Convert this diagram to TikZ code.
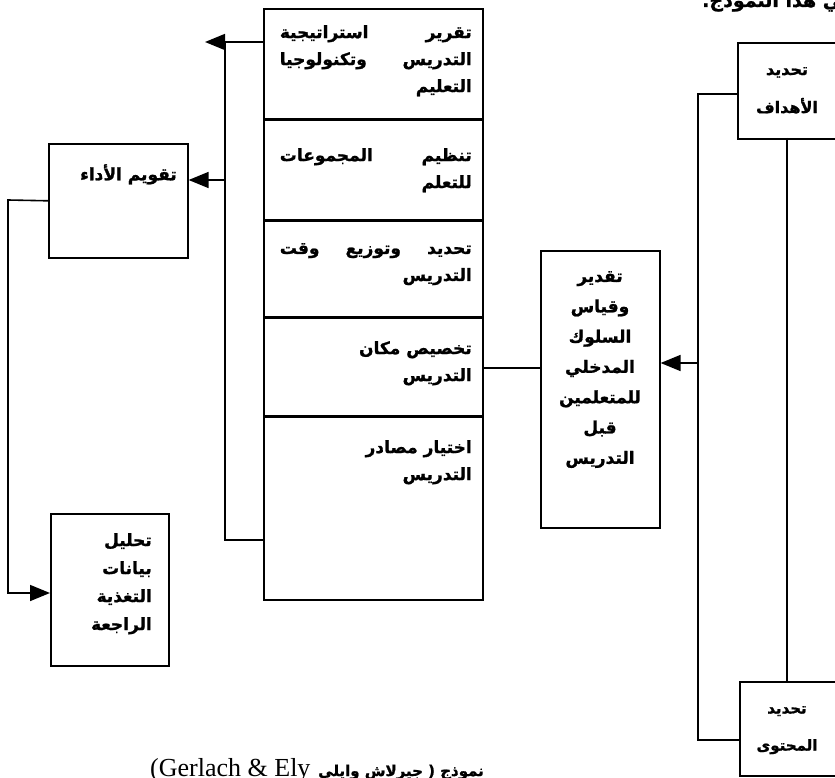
\documentclass[tikz,border=0pt]{standalone}
\usepackage{fontspec}
\setmainfont{Liberation Serif}
\newfontfamily\arabicfont[Script=Arabic, BoldFeatures={FakeBold=1.2}]{DejaVu Sans}
\TeXXeTstate=1
\usetikzlibrary{arrows.meta}

\begin{document}
\begin{tikzpicture}[x=1pt, y=-1pt,
  box/.style={draw, line width=1.6pt, inner sep=0pt, anchor=north west},
  txt/.style={font=\arabicfont\bfseries\fontsize{17}{27}\selectfont, inner sep=0pt, align=right, anchor=north east},
  link/.style={line width=1.6pt},
  arr/.style={line width=1.6pt, -{Triangle[length=20pt, width=16pt]}}]
  % one right-to-left line, and one spread over the row
  \newcommand\arline[1]{\beginR #1\endR}
  \newcommand\arspread[1]{\hbox to 192pt{\beginR #1\endR}}

  \useasboundingbox (0,0) rectangle (835,778);
  \clip (0,0) rectangle (835,778);

  % the column of steps
  \node[box, minimum width=219, minimum height=110] (r1) at (263,8) {};
  \node[box, minimum width=219, minimum height=99] (r2) at (r1.south west) {};
  \node[box, minimum width=219, minimum height=96] (r3) at (r2.south west) {};
  \node[box, minimum width=219, minimum height=97] (r4) at (r3.south west) {};
  \node[box, minimum width=219, minimum height=183] (r5) at (r4.south west) {};

  \node[txt] (r1t) at (472,25) {\arspread{تقرير\hfill استراتيجية}\\\arspread{التدريس\hfill وتكنولوجيا}\\\arline{التعليم}};
  \node[txt] (r2t) at (472,148) {\arspread{تنظيم\hfill المجموعات}\\\arline{للتعلم}};
  \node[txt] (r3t) at (472,243) {\arspread{تحديد\hfill وتوزيع\hfill وقت}\\\arline{التدريس}};
  \node[txt] (r4t) at (472,341) {\arline{تخصيص مكان}\\\arline{التدريس}};
  \node[txt] (r5t) at (472,440) {\arline{اختيار مصادر}\\\arline{التدريس}};

  % left side
  \node[box, minimum width=139, minimum height=114] (eval) at (48,143) {};
  \node[txt] (evalt) at (177,164) {\arline{تقويم الأداء}};
  \node[box, minimum width=118, minimum height=152] (fb) at (50,513) {};
  \node[txt, font=\arabicfont\bfseries\fontsize{17}{28}\selectfont] (fbt) at (152,533) {\arline{تحليل}\\\arline{بيانات}\\\arline{التغذية}\\\arline{الراجعة}};

  % middle box
  \node[box, minimum width=119, minimum height=277] (meas) at (540,250) {};
  \node[txt, align=center, anchor=north, font=\arabicfont\bfseries\fontsize{17}{30.3}\selectfont] (meast) at (600,271)
    {\arline{تقدير}\\\arline{وقياس}\\\arline{السلوك}\\\arline{المدخلي}\\\arline{للمتعلمين}\\\arline{قبل}\\\arline{التدريس}};

  % right side
  \node[box, minimum width=140, minimum height=96] (goal) at (737,42) {};
  \node[txt, align=center, anchor=north, font=\arabicfont\bfseries\fontsize{16}{38}\selectfont] (goalt) at (787,67) {\arline{تحديد}\\\arline{الأهداف}};
  \node[box, minimum width=140, minimum height=94] (cont) at (739,681) {};
  \node[txt, align=center, anchor=north, font=\arabicfont\bfseries\fontsize{15}{37}\selectfont] (contt) at (787,706) {\arline{تحديد}\\\arline{المحتوى}};

  % connectors
  \coordinate (busTop) at (225,42);
  \coordinate (busMid) at (225,180);
  \coordinate (busBot) at (225,540);
  \coordinate (outTop) at (205,42);
  \draw[link] (r1.west |- busTop) -- (busTop) -- (busBot) -- (r5.west |- busBot);
  \draw[arr] (busTop) -- (outTop);
  \draw[arr] (busMid) -- (eval.east |- busMid);

  \coordinate (loopTop) at (8,200);
  \coordinate (loopBot) at (8,593);
  \draw[arr] (eval.west) -- (loopTop) -- (loopBot) -- (fb.west |- loopBot);

  \coordinate (stepLink) at (482,368);
  \draw[link] (stepLink) -- (stepLink -| meas.west);

  \coordinate (rbTop) at (698,94);
  \coordinate (rbMid) at (698,363);
  \coordinate (rbBot) at (698,740);
  \draw[link] (goal.west |- rbTop) -- (rbTop) -- (rbBot) -- (cont.west |- rbBot);
  \draw[arr] (rbMid) -- (rbMid -| meas.east);
  \coordinate (rvTop) at (787,138);
  \coordinate (rvBot) at (787,681);
  \draw[link] (rvTop) -- (rvBot);

  % caption and cut text
  \node[font=\fontsize{26}{26}\selectfont, anchor=base west, inner sep=0pt] (capLat) at (150,776) {(Gerlach \& Ely};
  \node[font=\arabicfont\bfseries\fontsize{15}{15}\selectfont, anchor=base west, inner sep=0pt] (capAr) at (318,776) {\arline{نموذج ( جيرلاش وايلي}};
  \node[font=\arabicfont\bfseries\fontsize{19}{19}\selectfont, anchor=base west, inner sep=0pt] (topNote) at (702,7) {\arline{في هذا النموذج.}};
\end{tikzpicture}
\end{document}
